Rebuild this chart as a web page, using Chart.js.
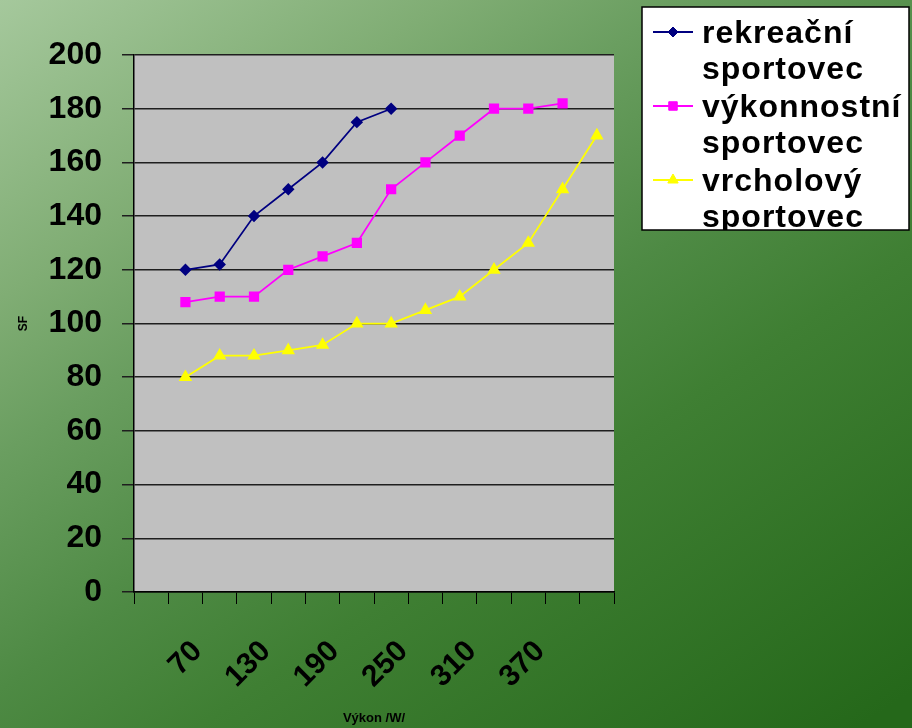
<!DOCTYPE html>
<html>
<head>
<meta charset="utf-8">
<script src="https://cdn.jsdelivr.net/npm/chart.js@4.4.1/dist/chart.umd.min.js"></script>
<style>
    html, body { margin: 0; padding: 0; overflow: hidden; }
    #obal { width: 912px; height: 728px; position: relative; }
</style>
</head>
<body>
<div id="obal"><canvas id="graf"></canvas></div>
<script>
// vykon /W/ - prvni kategorie je prazdna
var kategorie = ['', '70', '100', '130', '160', '190', '220', '250', '280', '310', '340', '370', '400', '430'];
var zobrazenePopisky = ['70', '130', '190', '250', '310', '370']; // popisky ktere jsou videt na ose x
var nazvySerii = ['rekreační sportovec', 'výkonnostní sportovec', 'vrcholový sportovec'];

// SF (tepova frekvence)
var rekreacni = [null, 120, 122, 140, 150, 160, 175, 180];
var vykonnostni = [null, 108, 110, 110, 120, 125, 130, 150, 160, 170, 180, 180, 182];
var vrcholovy = [null, 80, 88, 88, 90, 92, 100, 100, 105, 110, 120, 130, 150, 170];

var pismo = "'Liberation Sans', Arial, sans-serif";

// pozadi - zeleny prechod a sede pole grafu
var pozadi = {
    id: 'pozadi',
    beforeDraw: function (chart) {
        var ctx = chart.ctx;
        var g = ctx.createLinearGradient(0, 0, 600, 900);
        g.addColorStop(0, '#a5c89c');
        g.addColorStop(0.23, '#80ad74');
        g.addColorStop(0.35, '#6a9e60');
        g.addColorStop(0.53, '#4e8a44');
        g.addColorStop(0.66, '#3f7f33');
        g.addColorStop(1, '#25681a');
        ctx.save();
        ctx.fillStyle = g;
        ctx.fillRect(0, 0, chart.width, chart.height);
        var a = chart.chartArea;
        ctx.fillStyle = '#c0c0c0';
        ctx.fillRect(a.left, a.top, a.right - a.left, a.bottom - a.top);
        ctx.restore();
    }
};

// legenda v bilem ramecku vpravo nahore
var legenda = {
    id: 'legenda',
    afterDraw: function (chart) {
        var ctx = chart.ctx;
        var x = 642, y = 7, w = 267, h = 223;
        ctx.save();
        ctx.fillStyle = '#ffffff';
        ctx.fillRect(x, y, w, h);
        ctx.beginPath();
        ctx.rect(x, y, w, h);
        ctx.clip();
        chart.data.datasets.forEach(function (ds, i) {
            var cy = 32 + i * 74;
            ctx.strokeStyle = ds.borderColor;
            ctx.lineWidth = 2;
            ctx.beginPath();
            ctx.moveTo(653, cy);
            ctx.lineTo(693, cy);
            ctx.stroke();
            ctx.fillStyle = ds.pointBackgroundColor;
            ctx.strokeStyle = ds.pointBorderColor;
            ctx.lineWidth = 1;
            Chart.helpers.drawPoint(ctx, {pointStyle: ds.pointStyle, radius: ds.pointRadius, rotation: 0, borderWidth: 1}, 673, cy);
            ctx.fillStyle = '#000000';
            ctx.font = 'bold 32px ' + pismo;
            ctx.letterSpacing = '1px';
            ctx.textBaseline = 'middle';
            ctx.textAlign = 'left';
            var radky = nazvySerii[i].split(' ');
            for (var r = 0; r < radky.length; r++) {
                ctx.fillText(radky[r], 702, cy + 2 + r * 36);
            }
        });
        ctx.restore();
        ctx.save();
        ctx.strokeStyle = '#000000';
        ctx.lineWidth = 1.5;
        ctx.strokeRect(x, y, w, h);
        ctx.restore();
    }
};

var ctx = document.getElementById('graf');
var chart = new Chart(ctx, {
    type: 'line',
    data: {
        labels: kategorie,
        datasets: [{
            label: nazvySerii[0],
            data: rekreacni,
            borderColor: '#000080',
            backgroundColor: '#000080',
            pointBackgroundColor: '#000080',
            pointBorderColor: '#000080',
            pointStyle: 'rectRot',
            pointRadius: 5,
            borderWidth: 1.75
        }, {
            label: nazvySerii[1],
            data: vykonnostni,
            borderColor: '#ff00ff',
            backgroundColor: '#ff00ff',
            pointBackgroundColor: '#ff00ff',
            pointBorderColor: '#ff00ff',
            pointStyle: 'rect',
            pointRadius: 6,
            borderWidth: 1.75
        }, {
            label: nazvySerii[2],
            data: vrcholovy,
            borderColor: '#ffff00',
            backgroundColor: '#ffff00',
            pointBackgroundColor: '#ffff00',
            pointBorderColor: '#ffff00',
            pointStyle: 'triangle',
            pointRadius: 6,
            borderWidth: 1.75
        }]
    },
    options: {
        responsive: true,
        maintainAspectRatio: false,
        animation: false,
        layout: { padding: { left: 16, top: 55, right: 298, bottom: 2 } },
        plugins: {
            legend: { display: false },
            tooltip: { enabled: false }
        },
        scales: {
            x: {
                offset: true,
                grid: { offset: true, drawOnChartArea: false, drawTicks: true, tickLength: 12, color: '#000000' },
                border: { display: true, color: '#000000', width: 1.5 },
                ticks: {
                    autoSkip: false,
                    minRotation: 45,
                    maxRotation: 45,
                    padding: 30,
                    labelOffset: 12,
                    color: '#000000',
                    font: { family: pismo, size: 30, weight: 'bold' },
                    callback: function (val, i) {
                        var l = kategorie[i];
                        return zobrazenePopisky.indexOf(l) >= 0 ? l : '';
                    }
                },
                title: {
                    display: true,
                    text: 'Výkon /W/',
                    color: '#000000',
                    font: { family: pismo, size: 13, weight: 'bold' },
                    padding: { top: 0, bottom: 0 }
                },
                afterFit: function (scale) { scale.height = 134; }
            },
            y: {
                min: 0,
                max: 200,
                grid: { color: '#1e1e1e', lineWidth: 1.5, tickLength: 12 },
                border: { display: true, color: '#000000', width: 1.5 },
                ticks: {
                    stepSize: 20,
                    padding: 20,
                    color: '#000000',
                    font: { family: pismo, size: 32, weight: 'bold' }
                },
                title: {
                    display: true,
                    text: 'SF',
                    color: '#000000',
                    font: { family: pismo, size: 12, weight: 'bold' },
                    padding: { top: 0, bottom: 0 }
                },
                afterFit: function (scale) { scale.width = 118; }
            }
        }
    },
    plugins: [pozadi, legenda]
});
</script>
</body>
</html>
